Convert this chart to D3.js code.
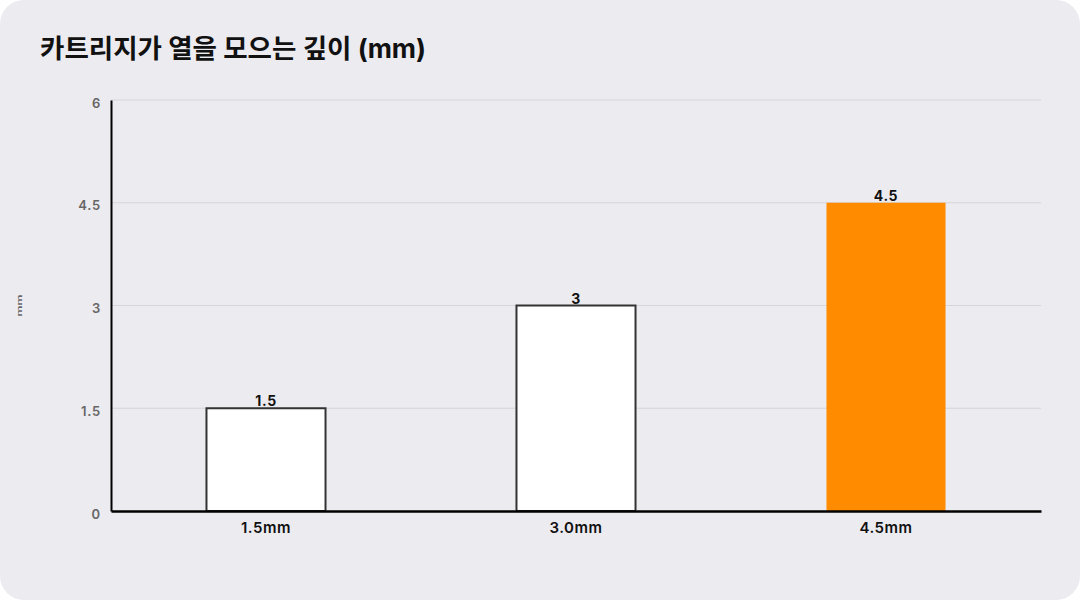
<!DOCTYPE html>
<html>
<head>
<meta charset="utf-8">
<script src="https://cdn.jsdelivr.net/npm/d3@7"></script>
<style>
  html, body { margin: 0; padding: 0; background: #ffffff; }
  #chart { width: 1080px; height: 600px; }
  text { font-family: Inter, "Noto Sans CJK KR", sans-serif; }
</style>
</head>
<body>
<div id="chart"></div>
<script>
// chart data
const categories = ['1.5mm', '3.0mm', '4.5mm'];
const values = [1.5, 3, 4.5];
const barFills = ['#ffffff', '#ffffff', '#ff8c00'];
const barStrokes = ['#333333', '#333333', 'none'];
const yTicks = [0, 1.5, 3, 4.5, 6];
const titleText = '카트리지가 열을 모으는 깊이 (mm)';
const yLabel = 'mm';

const width = 1080;
const height = 600;
const margin = { top: 100, right: 39, bottom: 89, left: 111 };

const svg = d3.select('#chart')
  .append('svg')
  .attr('width', width)
  .attr('height', height);

// card background
svg.append('rect')
  .attr('x', 0)
  .attr('y', 0)
  .attr('width', width)
  .attr('height', height)
  .attr('rx', 24)
  .attr('fill', '#ecebf0');

svg.append('text')
  .attr('x', 40)
  .attr('y', 58)
  .attr('font-family', '"Noto Sans CJK KR", sans-serif')
  .attr('font-size', 26.5)
  .attr('font-weight', 700)
  .attr('fill', '#111111')
  .text(titleText);

const xScale = d3.scaleBand()
  .domain(categories)
  .range([margin.left, width - margin.right])
  .paddingInner(0.616)
  .paddingOuter(0.308);

const yScale = d3.scaleLinear()
  .domain([0, 6])
  .range([height - margin.bottom, margin.top]);

// gridlines
svg.append('g')
  .attr('class', 'gridlines')
  .selectAll('line')
  .data(yTicks.filter((d) => d > 0))
  .join('line')
  .attr('x1', margin.left)
  .attr('x2', width - margin.right)
  .attr('y1', (d) => yScale(d))
  .attr('y2', (d) => yScale(d))
  .attr('stroke', '#d6d5da')
  .attr('stroke-width', 1);

// bars
svg.append('g')
  .attr('class', 'bars')
  .selectAll('rect')
  .data(categories)
  .join('rect')
  .attr('x', (d) => xScale(d))
  .attr('y', (d, i) => yScale(values[i]))
  .attr('width', xScale.bandwidth())
  .attr('height', (d, i) => yScale(0) - yScale(values[i]))
  .attr('fill', (d, i) => barFills[i])
  .attr('stroke', (d, i) => barStrokes[i])
  .attr('stroke-width', 2);

// value labels
svg.append('g')
  .selectAll('text')
  .data(categories)
  .join('text')
  .attr('x', (d) => xScale(d) + xScale.bandwidth() / 2)
  .attr('y', (d, i) => yScale(values[i]) - 2)
  .attr('text-anchor', 'middle')
  .attr('font-size', 14)
  .attr('font-weight', 700)
  .attr('letter-spacing', 0.6)
  .attr('fill', '#111111')
  .text((d, i) => values[i]);

// y axis
const yAxis = svg.append('g')
  .attr('transform', `translate(${margin.left}, 0)`)
  .call(d3.axisLeft(yScale).tickValues(yTicks).tickSize(0).tickPadding(10).tickFormat((d) => d));
yAxis.select('.domain').attr('stroke', '#000000').attr('stroke-width', 2);
yAxis.selectAll('text')
  .attr('font-family', 'Inter, sans-serif')
  .attr('font-size', 13)
  .attr('font-weight', 600)
  .attr('letter-spacing', 0.8)
  .attr('dy', '0.55em')
  .attr('fill', '#666666');

// x axis
const xAxis = svg.append('g')
  .attr('transform', `translate(0, ${height - margin.bottom})`)
  .call(d3.axisBottom(xScale).tickSize(0).tickPadding(11));
xAxis.select('.domain').attr('stroke', '#000000').attr('stroke-width', 2.5);
xAxis.selectAll('text')
  .attr('font-family', 'Inter, sans-serif')
  .attr('font-size', 15)
  .attr('font-weight', 600)
  .attr('letter-spacing', 0.5)
  .attr('fill', '#111111');

// y axis label
svg.append('text')
  .attr('transform', `translate(22, ${(margin.top + height - margin.bottom) / 2}) rotate(-90)`)
  .attr('text-anchor', 'middle')
  .attr('font-size', 6)
  .attr('font-weight', 600)
  .attr('textLength', 22)
  .attr('lengthAdjust', 'spacingAndGlyphs')
  .attr('fill', '#666666')
  .text(yLabel);
</script>
</body>
</html>
